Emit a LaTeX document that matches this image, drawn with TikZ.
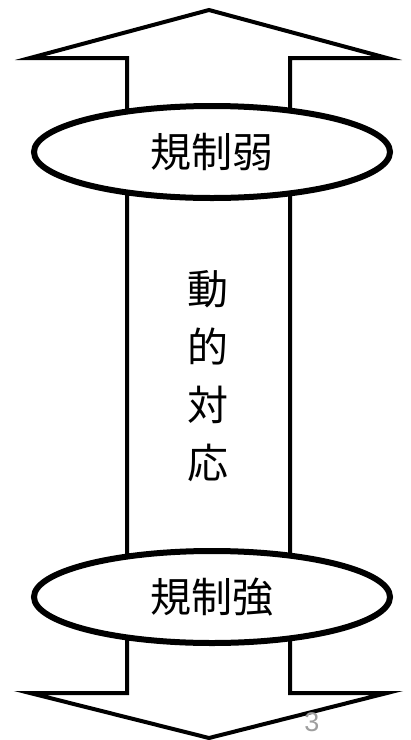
\documentclass[tikz,border=0pt]{standalone}
\usepackage{fontspec}
\newfontfamily\cjk{Noto Sans CJK JP}
\setmainfont{Liberation Sans}
\usetikzlibrary{shapes.geometric}
\tikzset{
  arrowline/.style={draw=black, line width=4pt, fill=white, line join=miter},
  oval/.style={ellipse, draw=black, line width=6pt, fill=white, minimum width=356pt, minimum height=92pt, inner sep=0pt, font=\cjk\fontsize{41pt}{41pt}\selectfont},
  vtext/.style={font=\cjk\fontsize{41pt}{58pt}\selectfont, align=center, inner sep=0pt}
}
\begin{document}
\begin{tikzpicture}[x=1pt,y=-1pt]
\useasboundingbox (0,0) rectangle (411,740);
\draw[arrowline] (209,10) -- (387,58) -- (290,58) -- (290,693) -- (387,693) -- (209,738) -- (30,693) -- (127,693) -- (127,58) -- (30,58) -- cycle;
\node[oval] (weak) at (212,152) {規制弱};
\node[oval] (strong) at (212,597) {規制強};
\node[vtext] (mid) at (208,376) {動\\的\\対\\応};
\node[font=\fontsize{27pt}{27pt}\selectfont, text=black!38, inner sep=0pt] (pg) at (312,722) {3};
\end{tikzpicture}
\end{document}
